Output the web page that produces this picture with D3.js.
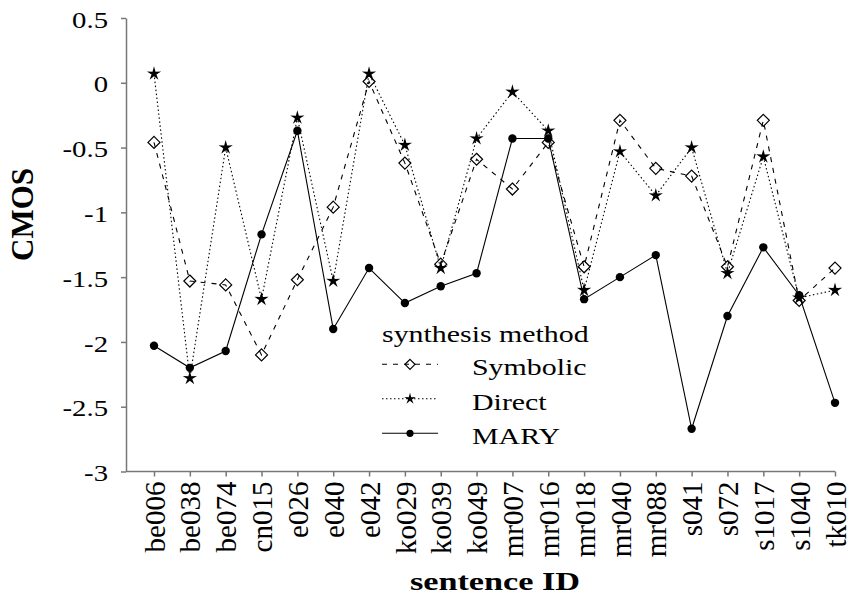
<!DOCTYPE html>
<html>
<head>
<meta charset="utf-8">
<script src="https://cdn.jsdelivr.net/npm/d3@7"></script>
<style>
  body { margin: 0; background: #fff; }
</style>
</head>
<body>
<svg id="chart-svg"></svg>
<script>
const sentenceIds = [
  "be006", "be038", "be074", "cn015", "e026", "e040", "e042", "ko029", "ko039", "ko049",
  "mr007", "mr016", "mr018", "mr040", "mr088", "s041", "s072", "s1017", "s1040", "tk010",
];
const symbolicCmos = [-0.46, -1.53, -1.56, -2.1, -1.52, -0.96, 0.01, -0.62, -1.4, -0.59,
  -0.82, -0.46, -1.42, -0.29, -0.66, -0.72, -1.42, -0.29, -1.68, -1.43];
const directCmos = [0.07, -2.28, -0.5, -1.67, -0.27, -1.53, 0.07, -0.48, -1.43, -0.43,
  -0.07, -0.37, -1.6, -0.53, -0.87, -0.5, -1.47, -0.57, -1.66, -1.6];
const maryCmos = [-2.03, -2.2, -2.07, -1.17, -0.37, -1.9, -1.43, -1.7, -1.57, -1.47,
  -0.43, -0.43, -1.67, -1.5, -1.33, -2.67, -1.8, -1.27, -1.64, -2.47];
const yTickValues = [-3, -2.5, -2, -1.5, -1, -0.5, 0, 0.5];
const seriesNames = ["Symbolic", "Direct", "MARY"];

const svgWidth = 850;
const svgHeight = 598;
const axisX = 126;
const plotTop = 18;
const plotBottom = 471.5;
const firstTickX = 154;
const lastTickX = 835;
const axisColor = "#777";
const serifFont = "'Liberation Serif', 'DejaVu Serif', 'Times New Roman', Times, serif";

const svg = d3
  .select("#chart-svg")
  .attr("width", svgWidth)
  .attr("height", svgHeight)
  .attr("font-family", serifFont);

const xScale = d3.scalePoint().domain(sentenceIds).range([firstTickX, lastTickX]);
const yScale = d3.scaleLinear().domain([-3, 0.5]).range([plotBottom, plotTop]);

// marker shapes
const diamondType = {
  draw(ctx, size) {
    const r = Math.sqrt(size);
    ctx.moveTo(0, -r);
    ctx.lineTo(r, 0);
    ctx.lineTo(0, r);
    ctx.lineTo(-r, 0);
    ctx.closePath();
  },
};
const starType = {
  draw(ctx, size) {
    const r = Math.sqrt(size);
    const ri = r * 0.34;
    for (let k = 0; k < 10; k++) {
      const a = -Math.PI / 2 + (k * Math.PI) / 5;
      const rr = k % 2 === 0 ? r : ri;
      if (k === 0) ctx.moveTo(rr * Math.cos(a), rr * Math.sin(a));
      else ctx.lineTo(rr * Math.cos(a), rr * Math.sin(a));
    }
    ctx.closePath();
  },
};

const series = [
  { name: seriesNames[0], values: symbolicCmos, dash: "5,6", marker: "diamond" },
  { name: seriesNames[1], values: directCmos, dash: "1.5,2.5", marker: "star" },
  { name: seriesNames[2], values: maryCmos, dash: null, marker: "dot" },
];

function drawMarker(g, kind, x, y, big) {
  if (kind === "dot") {
    g.append("circle").attr("cx", x).attr("cy", y).attr("r", big ? 4.2 : 3.6).attr("fill", "#000");
  } else if (kind === "diamond") {
    g.append("path")
      .attr("transform", `translate(${x},${y})`)
      .attr("d", d3.symbol().type(diamondType).size(big ? 36 : 25)())
      .attr("fill", "none")
      .attr("stroke", "#000")
      .attr("stroke-width", 1.2);
  } else {
    g.append("path")
      .attr("transform", `translate(${x},${y})`)
      .attr("d", d3.symbol().type(starType).size(big ? 56 : 36)())
      .attr("fill", "#000");
  }
}

// axes
const xAxisG = svg
  .append("g")
  .attr("transform", `translate(0, ${plotBottom})`)
  .call(d3.axisBottom(xScale).tickSize(5).tickSizeOuter(0));
xAxisG.select(".domain").attr("d", `M${axisX},0H${lastTickX}`);
xAxisG
  .selectAll("text")
  .attr("y", 0)
  .attr("x", -10)
  .attr("dy", "0.35em")
  .attr("transform", "rotate(-90)")
  .style("text-anchor", "end")
  .style("font-family", serifFont)
  .style("font-size", "29px");

const yAxisG = svg
  .append("g")
  .attr("transform", `translate(${axisX}, 0)`)
  .call(
    d3.axisLeft(yScale).tickValues(yTickValues).tickSize(5).tickSizeOuter(0).tickFormat((d) => String(d))
  );
yAxisG
  .selectAll("text")
  .attr("x", -14.4)
  .attr("dy", "0.4em")
  .attr("transform", "scale(1.25,1)")
  .style("font-family", serifFont)
  .style("font-size", "23px");

svg.selectAll(".domain, .tick line").attr("stroke", axisColor).attr("stroke-width", 1.5);

svg
  .append("text")
  .attr("transform", "translate(33, 214.5) rotate(-90)")
  .style("text-anchor", "middle")
  .style("font-family", serifFont)
  .style("font-size", "31px")
  .style("font-weight", "bold")
  .text("CMOS");

svg
  .append("text")
  .attr("transform", "translate(495, 590) scale(1.37,1)")
  .style("text-anchor", "middle")
  .style("font-family", serifFont)
  .style("font-size", "25px")
  .style("font-weight", "bold")
  .text("sentence ID");

// lines then markers
const line = d3
  .line()
  .x((d, i) => xScale(sentenceIds[i]))
  .y((d) => yScale(d));

const plot = svg.append("g");
series.forEach((s) => {
  plot
    .append("path")
    .attr("d", line(s.values))
    .attr("fill", "none")
    .attr("stroke", "#000")
    .attr("stroke-width", 1.1)
    .attr("stroke-dasharray", s.dash);
});
series.forEach((s) => {
  s.values.forEach((v, i) => drawMarker(plot, s.marker, xScale(sentenceIds[i]), yScale(v), true));
});

// legend
const legend = svg.append("g").attr("transform", "translate(382, 0)");
legend
  .append("text")
  .attr("transform", "translate(0, 342) scale(1.3,1)")
  .style("font-family", serifFont)
  .style("font-size", "23px")
  .text("synthesis method");

series.forEach((s, i) => {
  const rowY = 364.3 + i * 34.5;
  legend
    .append("line")
    .attr("x1", 0)
    .attr("x2", 56)
    .attr("y1", rowY)
    .attr("y2", rowY)
    .attr("stroke", "#000")
    .attr("stroke-width", 1.1)
    .attr("stroke-dasharray", s.dash);
  drawMarker(legend, s.marker, 28, rowY, false);
  legend
    .append("text")
    .attr("transform", `translate(90, ${rowY + 11}) scale(1.3,1)`)
    .style("font-family", serifFont)
    .style("font-size", "23px")
    .text(s.name);
});
</script>
</body>
</html>
